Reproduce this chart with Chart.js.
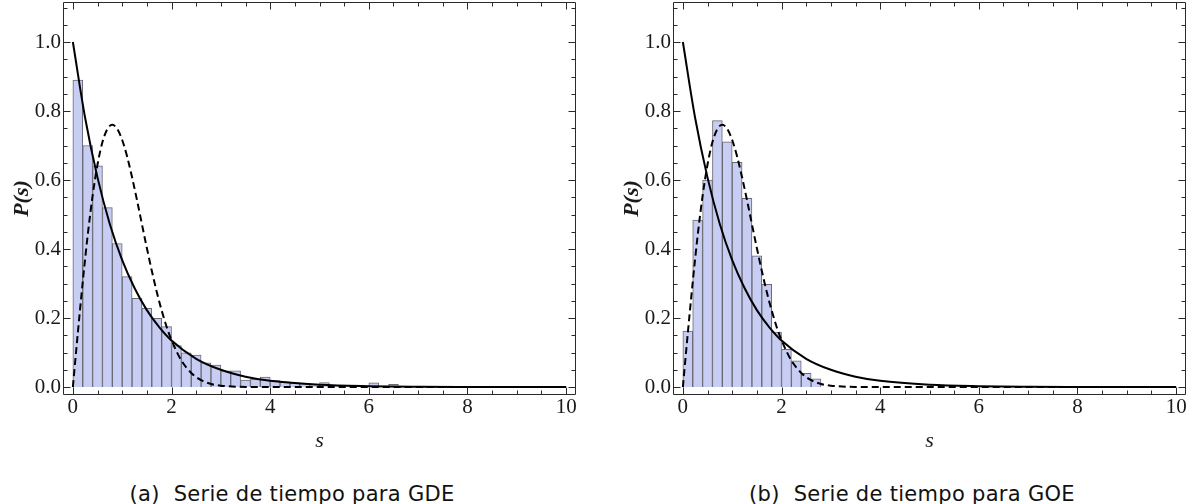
<!DOCTYPE html>
<html><head><meta charset="utf-8">
<script src="https://cdn.jsdelivr.net/npm/chart.js@4/dist/chart.umd.min.js"></script>
<style>
html,body{margin:0;padding:0;background:#fff;width:1188px;height:504px;overflow:hidden;}
.panel{position:absolute;top:0;width:576px;height:470px;}
.cap{position:absolute;top:482px;font-family:"DejaVu Sans";font-size:21px;line-height:24px;letter-spacing:0.3px;color:#111;white-space:nowrap;transform:translateX(-50%);}
.cap .lab{margin-right:14px;}
</style></head><body>
<div class="panel" style="left:1px"><canvas id="c1" width="576" height="470"></canvas></div>
<div class="panel" style="left:611px"><canvas id="c2" width="576" height="470"></canvas></div>
<div class="cap" style="left:292px"><span class="lab">(a)</span>Serie de tiempo para GDE</div>
<div class="cap" style="left:912px"><span class="lab">(b)</span>Serie de tiempo para GOE</div>
<script>
// ---- data ----
const binWidth = 0.2;
const gdeHeights = [0.89, 0.70, 0.641, 0.52, 0.416, 0.32, 0.257, 0.228, 0.199, 0.175,
  0.12, 0.099, 0.093, 0.07, 0.064, 0.047, 0.047, 0.02, 0.023, 0.029,
  0.019, 0.015, 0.012, 0.01, 0.009, 0.013, 0.005, 0.004, 0.003, 0.003,
  0.012, 0.002, 0.008];
const goeHeights = [0.162, 0.484, 0.60, 0.772, 0.711, 0.651, 0.547, 0.38, 0.298, 0.159,
  0.109, 0.076, 0.04, 0.024];
const poissonS = [0, 0.25, 0.5, 0.75, 1, 1.25, 1.5, 1.75, 2, 2.5, 3, 3.5, 4, 5, 6, 7, 8, 9, 10];
const poissonP = [1.0, 0.779, 0.607, 0.472, 0.368, 0.287, 0.223, 0.174, 0.135, 0.082, 0.050, 0.030, 0.018, 0.0067, 0.0025, 0.0009, 0.0003, 0.0001, 0.00005];
const wignerS = [0, 0.1, 0.2, 0.3, 0.4, 0.5, 0.6, 0.7, 0.8, 0.9, 1.0, 1.1, 1.2, 1.3, 1.4, 1.5, 1.6, 1.7, 1.8, 1.9, 2.0, 2.2, 2.4, 2.6, 2.8, 3.0, 3.5, 4, 5, 6, 8, 10];
const wignerP = [0, 0.156, 0.304, 0.439, 0.554, 0.645, 0.710, 0.748, 0.760, 0.748, 0.716, 0.668, 0.608, 0.542, 0.472, 0.403, 0.337, 0.276, 0.222, 0.175, 0.136, 0.077, 0.041, 0.020, 0.009, 0.004, 0.0004, 0, 0, 0, 0, 0];
const xTickValues = [0, 2, 4, 6, 8, 10];
const xTickLabels = ['0', '2', '4', '6', '8', '10'];
const yTickValues = [0, 0.2, 0.4, 0.6, 0.8, 1.0];
const yTickLabels = ['0.0', '0.2', '0.4', '0.6', '0.8', '1.0'];
const xMinorStep = 0.5, yMinorStep = 0.05;
const xRange = [-0.2, 10.2], yRange = [-0.023, 1.116];

// ---- helpers ----
const tickFont = {family: 'Liberation Serif', size: 21};
const framePlugin = {
  id: 'frame',
  afterDatasetsDraw(chart) {
    const {ctx, chartArea: a, scales: {x, y}} = chart;
    ctx.save();
    ctx.strokeStyle = '#2a2a2a';
    ctx.lineWidth = 1;
    ctx.beginPath();
    const L = a.left + 0.5, R = a.right - 0.5, T = a.top + 0.5, B = a.bottom - 0.5;
    ctx.rect(L, T, R - L, B - T);
    for (let i = 0; i * xMinorStep <= xRange[1] + 1e-9; i++) {
      const v = i * xMinorStep;
      const major = xTickValues.some(t => Math.abs(t - v) < 1e-9);
      const len = major ? 7 : 4;
      const px = Math.round(x.getPixelForValue(v)) + 0.5;
      ctx.moveTo(px, B); ctx.lineTo(px, B - len);
      ctx.moveTo(px, T); ctx.lineTo(px, T + len);
    }
    for (let i = 0; i * yMinorStep <= yRange[1] + 1e-9; i++) {
      const v = i * yMinorStep;
      const major = yTickValues.some(t => Math.abs(t - v) < 1e-9);
      const len = major ? 7 : 4;
      const py = Math.round(y.getPixelForValue(v)) + 0.5;
      ctx.moveTo(L, py); ctx.lineTo(L + len, py);
      ctx.moveTo(R, py); ctx.lineTo(R - len, py);
    }
    ctx.stroke();
    ctx.restore();
  }
};

function makeChart(id, heights) {
  const bars = heights.map((h, i) => ({x: (i + 0.5) * binWidth, y: h}));
  const pois = poissonS.map((s, i) => ({x: s, y: poissonP[i]}));
  const wig = wignerS.map((s, i) => ({x: s, y: wignerP[i]}));
  return new Chart(document.getElementById(id), {
    type: 'bar',
    data: {
      datasets: [
        {type: 'line', data: pois, borderColor: '#000', borderWidth: 2, pointRadius: 0,
         cubicInterpolationMode: 'monotone', order: 0},
        {type: 'line', data: wig, borderColor: '#000', borderWidth: 2, borderDash: [7, 4], pointRadius: 0,
         cubicInterpolationMode: 'monotone', order: 1},
        {type: 'bar', data: bars, backgroundColor: 'rgb(200,205,243)', borderColor: 'rgb(105,105,115)',
         borderWidth: 1, barPercentage: 1, categoryPercentage: 1, order: 2}
      ]
    },
    options: {
      responsive: false, animation: false, events: [],
      layout: {padding: {top: 2, right: 1, left: 0, bottom: 0}},
      plugins: {legend: {display: false}, tooltip: {enabled: false}},
      scales: {
        x: {
          type: 'linear', min: xRange[0], max: xRange[1], offset: false,
          grid: {display: false, drawTicks: false}, border: {display: false},
          afterBuildTicks: s => { s.ticks = xTickValues.map(v => ({value: v})); },
          afterFit: s => { s.height = 75; },
          ticks: {font: tickFont, color: '#1a1a1a', padding: 0, maxRotation: 0, autoSkip: false,
                  callback: (v, i) => xTickLabels[i]},
          title: {display: true, text: 's', color: '#1a1a1a',
                  font: {family: 'Liberation Serif', size: 22, style: 'italic'},
                  padding: {top: 0, bottom: 16}}
        },
        y: {
          type: 'linear', min: yRange[0], max: yRange[1],
          grid: {display: false, drawTicks: false}, border: {display: false},
          afterBuildTicks: s => { s.ticks = yTickValues.map(v => ({value: v})); },
          afterFit: s => { s.width = 62; s.paddingTop = 0; s.paddingBottom = 0; },
          ticks: {font: tickFont, color: '#1a1a1a', padding: 2, autoSkip: false,
                  callback: (v, i) => yTickLabels[i]},
          title: {display: true, text: 'P(s)', color: '#1a1a1a',
                  font: {family: 'Liberation Serif', size: 22, style: 'italic', weight: 'bold'},
                  padding: {top: 8, bottom: 0}}
        }
      }
    },
    plugins: [framePlugin]
  });
}
makeChart('c1', gdeHeights);
makeChart('c2', goeHeights);
</script>
</body></html>
